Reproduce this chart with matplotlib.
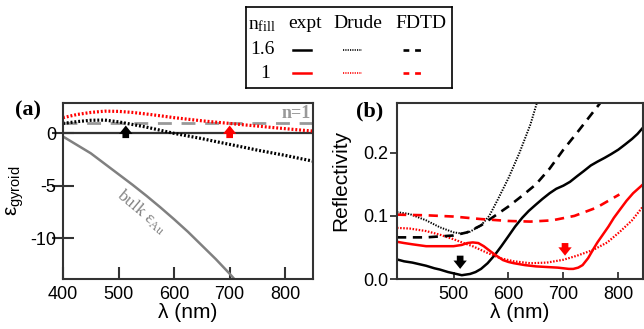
import numpy as np
import matplotlib.pyplot as plt

plt.rcParams['font.family'] = ['Liberation Sans', 'DejaVu Sans']
plt.rcParams['mathtext.default'] = 'regular'
plt.rcParams['axes.unicode_minus'] = False

# panel (a): effective permittivity of the gyroid
lam_a = [400, 425, 450, 475, 500, 525, 550, 575, 600, 625, 650, 675, 700, 725, 750, 775, 800, 825, 850]
eps_drude_1 = [1.5, 1.8, 2.0, 2.12, 2.1, 2.0, 1.85, 1.68, 1.5, 1.35, 1.2, 1.07, 0.95, 0.82, 0.7, 0.57, 0.45, 0.33, 0.22]
eps_drude_16 = [0.95, 1.12, 1.25, 1.27, 1.1, 0.85, 0.6, 0.3, 0.0, -0.25, -0.5, -0.78, -1.05, -1.32, -1.6, -1.85, -2.1, -2.38, -2.65]
lam_bulk = [400, 425, 450, 475, 500, 525, 550, 575, 600, 625, 650, 675, 700, 715]
eps_bulk = [-0.3, -1.1, -1.9, -2.9, -3.9, -4.9, -5.95, -7.05, -8.2, -9.4, -10.7, -12.0, -13.4, -14.3]

# panel (b): reflectivity
lam_exp16 = [397, 410, 425, 440, 450, 465, 475, 490, 500, 515, 530, 540, 550, 562, 575, 587, 600,
             612, 625, 637, 650, 662, 675, 687, 700, 712, 725, 737, 750, 762, 775, 787, 800, 812, 825, 835, 845]
R_exp16 = [0.031, 0.028, 0.026, 0.023, 0.021, 0.017, 0.015, 0.011, 0.009, 0.006, 0.008, 0.011, 0.016, 0.025, 0.038,
           0.052, 0.068, 0.083, 0.097, 0.108, 0.118, 0.127, 0.136, 0.143, 0.148, 0.154, 0.163, 0.171, 0.18, 0.186,
           0.192, 0.198, 0.205, 0.213, 0.222, 0.23, 0.24]
lam_exp1 = [397, 410, 425, 450, 475, 500, 515, 525, 535, 545, 555, 567, 578, 590, 600, 610, 630, 650, 670, 690,
            700, 710, 718, 727, 735, 745, 755, 762, 770, 782, 792, 803, 815, 827, 836, 845]
R_exp1 = [0.059, 0.057, 0.055, 0.052, 0.052, 0.052, 0.054, 0.057, 0.058, 0.057, 0.052, 0.044, 0.037, 0.03, 0.027,
          0.025, 0.022, 0.02, 0.019, 0.018, 0.017, 0.016, 0.016, 0.018, 0.022, 0.033, 0.048, 0.058, 0.068, 0.083,
          0.097, 0.11, 0.124, 0.136, 0.143, 0.15]
lam_dr16 = [397, 420, 450, 475, 500, 515, 530, 550, 565, 580, 600, 620, 640, 652]
R_dr16 = [0.106, 0.103, 0.093, 0.082, 0.074, 0.072, 0.075, 0.085, 0.1, 0.125, 0.16, 0.2, 0.245, 0.28]
lam_dr1 = [397, 420, 450, 476, 500, 536, 560, 585, 610, 640, 670, 700, 725, 754, 780, 803, 825, 845]
R_dr1 = [0.081, 0.08, 0.076, 0.07, 0.063, 0.0515, 0.042, 0.033, 0.028, 0.025, 0.026, 0.0305, 0.037, 0.046, 0.058, 0.075, 0.093, 0.115]
lam_fd16 = [397, 450, 500, 525, 550, 575, 600, 625, 650, 675, 700, 725, 750, 768]
R_fd16 = [0.066, 0.066, 0.069, 0.074, 0.085, 0.1, 0.115, 0.132, 0.15, 0.175, 0.205, 0.232, 0.26, 0.28]
lam_fd1 = [397, 450, 500, 550, 600, 640, 680, 720, 760, 802]
R_fd1 = [0.102, 0.101, 0.099, 0.095, 0.092, 0.091, 0.093, 0.1, 0.113, 0.134]

W, H = 644, 329
fig = plt.figure(figsize=(6.44, 3.29), dpi=100)

def box(l, t, r, b):
    return [l / W, 1 - b / H, (r - l) / W, (b - t) / H]

times = ['Liberation Serif', 'DejaVu Serif']
spine_c = '#333333'
red = '#ff0000'
dot_a = (0, (0.6, 0.6))
dot_b = (0, (0.7, 0.7))
dash = (0, (3.5, 2.5))
arrow_style = 'simple,head_width=0.8,head_length=0.5,tail_width=0.4'

# ---------- (a)
ax = fig.add_axes(box(63, 103, 313, 279))
ax.plot(lam_a, [0] * len(lam_a), color=spine_c, lw=1.6)
ax.plot([400, 850], [1, 1], color='#999999', lw=2, dashes=(5, 3.5))
ax.plot(lam_bulk, eps_bulk, color='#808080', lw=1.8)
ax.plot(lam_a, eps_drude_1, color=red, lw=2.3, linestyle=dot_a)
ax.plot(lam_a, eps_drude_16, color='k', lw=2.3, linestyle=dot_a)
for x0, c in [(513, 'k'), (700, red)]:
    ax.annotate('', xy=(x0, 0.75), xytext=(x0, -0.45),
                arrowprops=dict(arrowstyle=arrow_style, fc=c, ec=c, lw=0,
                                shrinkA=0, shrinkB=0, mutation_scale=12))
ax.text(846, 1.05, 'n=1', color='#999999', fontsize=13, fontweight='bold', family=times,
        ha='right', va='bottom')
ax.text(541, -7.5, r'bulk $ε_{Au}$', color='#808080', fontsize=12.5, family=times,
        rotation=-40, ha='center', va='center', rotation_mode='anchor')
ax.set_xlim(400, 850)
ax.set_ylim(-13.9, 2.9)
ax.set_xticks([400, 500, 600, 700, 800])
ax.set_yticks([0, -5, -10])
ax.tick_params(axis='x', direction='in', length=9, width=1.5, color=spine_c, labelsize=13, pad=5)
ax.tick_params(axis='y', direction='inout', length=16, width=1.5, color=spine_c, labelsize=13, pad=-3)
for s in ax.spines.values():
    s.set_color(spine_c)
    s.set_linewidth(1.5)
ax.set_xlabel('λ (nm)', fontsize=15, labelpad=0)
ax.set_ylabel(r'$ε_{gyroid}$', fontsize=15)
ax.yaxis.set_label_coords(-0.148, 0.5)
fig.text(28 / W, 1 - 110 / H, '(a)', fontsize=16, fontweight='bold', family=times,
         ha='center', va='center')

# ---------- (b)
bx = fig.add_axes(box(397, 103, 643, 279))
bx.plot(lam_exp16, R_exp16, color='k', lw=1.8)
bx.plot(lam_exp1, R_exp1, color=red, lw=1.8)
bx.plot(lam_dr16, R_dr16, color='k', lw=1.4, linestyle=dot_b)
bx.plot(lam_dr1, R_dr1, color=red, lw=1.6, linestyle=dot_b)
bx.plot(lam_fd16, R_fd16, color='k', lw=1.9, linestyle=dash)
bx.plot(lam_fd1, R_fd1, color=red, lw=1.9, linestyle=dash)
for x0, y0, y1, c in [(512, 0.037, 0.016, 'k'), (703, 0.057, 0.037, red)]:
    bx.annotate('', xy=(x0, y1), xytext=(x0, y0),
                arrowprops=dict(arrowstyle=arrow_style, fc=c, ec=c, lw=0,
                                shrinkA=0, shrinkB=0, mutation_scale=12))
bx.set_xlim(397, 845)
bx.set_ylim(0, 0.279)
bx.set_xticks([500, 600, 700, 800])
bx.set_yticks([0.0, 0.1, 0.2])
bx.set_yticklabels(['0.0', '0.1', '0.2'])
bx.tick_params(axis='x', direction='in', length=5, width=1.3, color=spine_c, labelsize=13, pad=5)
bx.tick_params(axis='y', direction='out', length=5, width=1.3, color=spine_c, labelsize=13, pad=1)
for s in bx.spines.values():
    s.set_color(spine_c)
    s.set_linewidth(1.5)
bx.set_xlabel('λ (nm)', fontsize=15, labelpad=0)
bx.set_ylabel('Reflectivity', fontsize=15)
bx.yaxis.set_label_coords(-0.19, 0.56)
fig.text(370 / W, 1 - 111 / H, '(b)', fontsize=16, fontweight='bold', family=times,
         ha='center', va='center')

# ---------- legend box (pixel coordinates inside its own axes)
lg = fig.add_axes(box(246, 7, 452, 88))
lg.set_xlim(246, 452)
lg.set_ylim(88, 7)
lg.set_xticks([])
lg.set_yticks([])
for s in lg.spines.values():
    s.set_linewidth(1.2)
    s.set_color('k')
kw = dict(fontsize=14, family=times, ha='center', va='center')
lg.text(262, 25, r'n$_{fill}$', **kw)
lg.text(305, 24, 'expt', **kw)
lg.text(358, 24, 'Drude', **kw)
lg.text(421, 24, 'FDTD', **kw)
lg.text(262, 50, '1.6', **kw)
lg.text(265, 73, '1', **kw)
for y, c in [(50, 'k'), (73, red)]:
    lg.plot([293, 311], [y, y], color=c, lw=1.8)
    lg.plot([343, 362], [y, y], color=c, lw=1.2, linestyle=(0, (0.7, 0.7)))
    lg.plot([403, 421], [y, y], color=c, lw=1.9, linestyle=(0, (2.2, 2.2)))

fig.savefig('out.png', dpi=100)
